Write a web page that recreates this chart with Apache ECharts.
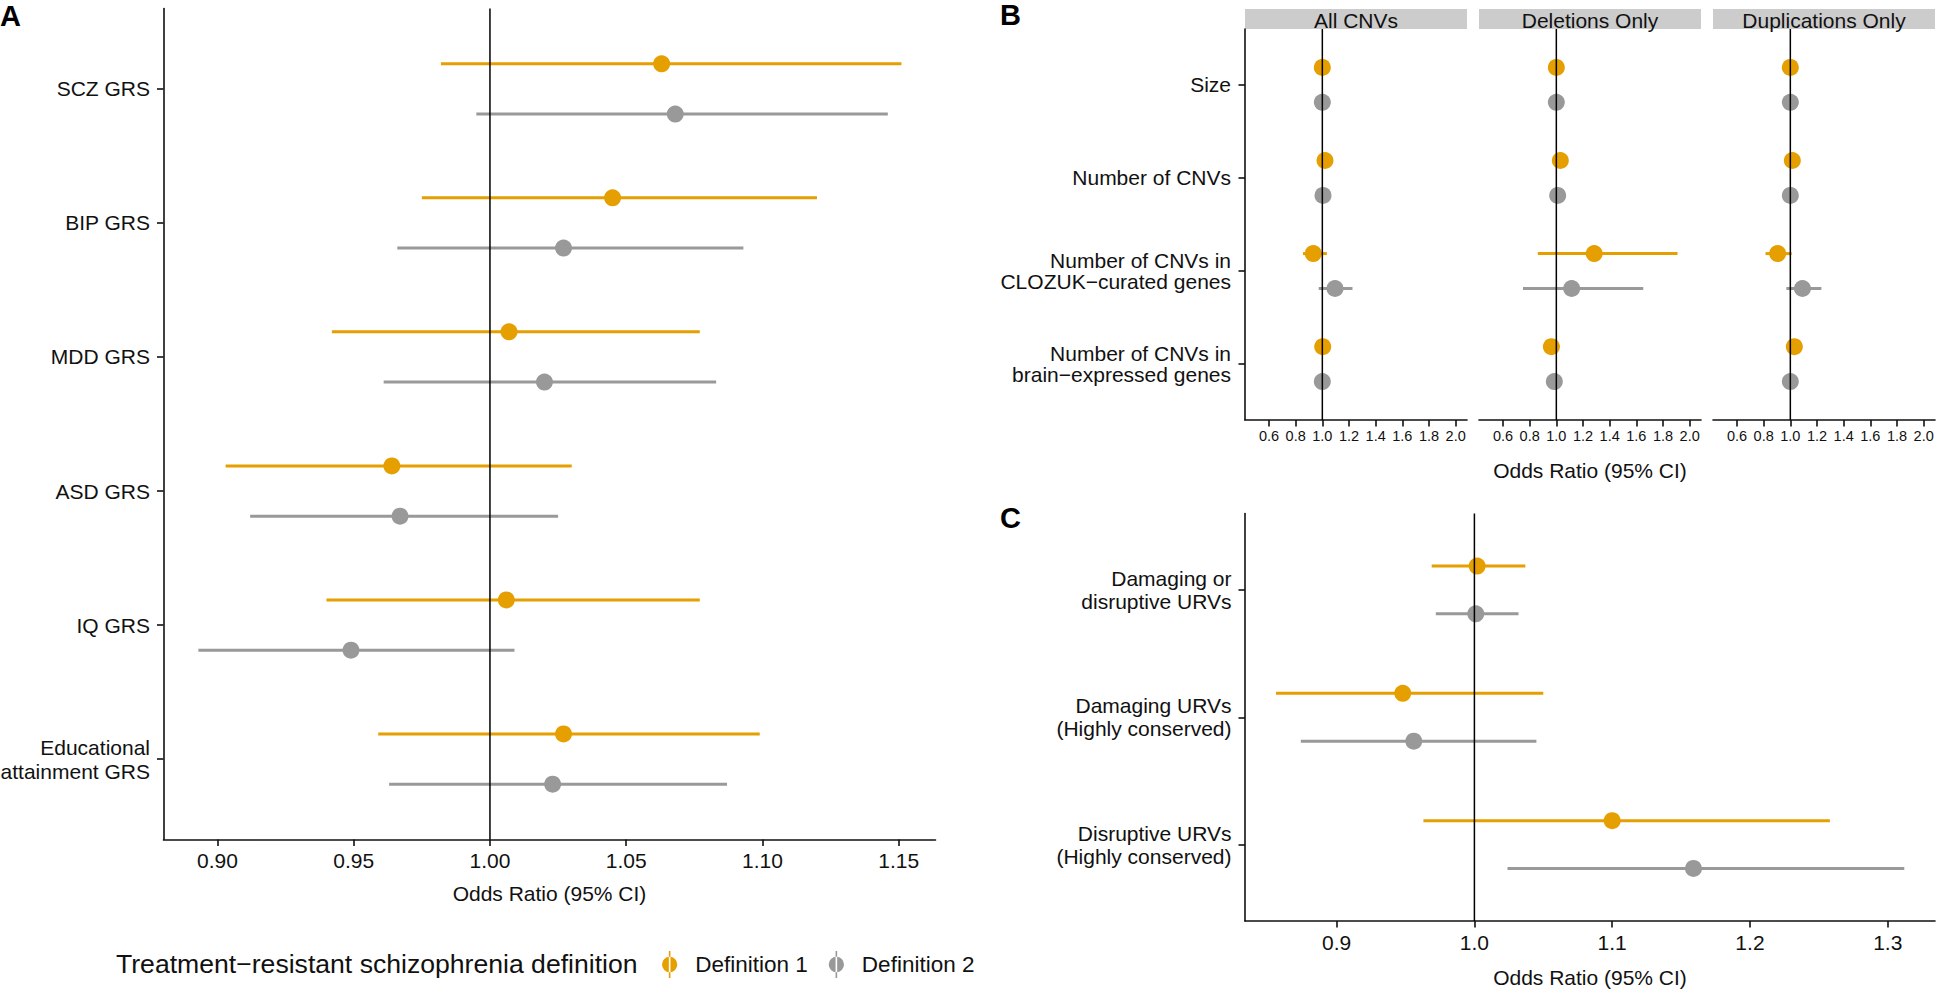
<!DOCTYPE html>
<html>
<head>
<meta charset="utf-8">
<title>Treatment-resistant schizophrenia forest plots</title>
<script src="https://cdn.jsdelivr.net/npm/echarts@6/dist/echarts.min.js"></script>
<style>
html, body { margin: 0; padding: 0; background: #fff; }
#main { width: 1937px; height: 989px; }
</style>
</head>
<body>
<div id="main"></div>
<script>
// ---- data ----
// panel A: genetic risk scores
var catsA = ['SCZ GRS', 'BIP GRS', 'MDD GRS', 'ASD GRS', 'IQ GRS', 'Educational\nattainment GRS'];
var grsDef1Or = [1.063, 1.045, 1.007, 0.964, 1.006, 1.027];
var grsDef1Lo = [0.982, 0.975, 0.942, 0.903, 0.940, 0.959];
var grsDef1Hi = [1.151, 1.120, 1.077, 1.030, 1.077, 1.099];
var grsDef2Or = [1.068, 1.027, 1.020, 0.967, 0.949, 1.023];
var grsDef2Lo = [0.995, 0.966, 0.961, 0.912, 0.893, 0.963];
var grsDef2Hi = [1.146, 1.093, 1.083, 1.025, 1.009, 1.087];
var ticksA = [0.90, 0.95, 1.00, 1.05, 1.10, 1.15];

// panel B: CNVs, one inner array per facet
var facetsB = ['All CNVs', 'Deletions Only', 'Duplications Only'];
var catsB = ['Size', 'Number of CNVs', 'Number of CNVs in\nCLOZUK\u2212curated genes', 'Number of CNVs in\nbrain\u2212expressed genes'];
var cnvDef1Or = [[1.000, 1.020, 0.932, 1.003], [1.000, 1.030, 1.284, 0.963], [1.000, 1.015, 0.905, 1.030]];
var cnvDef1Lo = [[0.990, 1.000, 0.855, 0.990], [0.990, 1.010, 0.861, 0.945], [0.990, 1.000, 0.814, 1.015]];
var cnvDef1Hi = [[1.010, 1.040, 1.034, 1.016], [1.010, 1.050, 1.909, 0.980], [1.010, 1.030, 1.010, 1.045]];
var cnvDef2Or = [[1.000, 1.005, 1.095, 1.000], [1.000, 1.010, 1.115, 0.985], [1.000, 1.000, 1.091, 1.000]];
var cnvDef2Lo = [[0.990, 0.995, 0.973, 0.990], [0.990, 1.000, 0.750, 0.970], [0.990, 0.990, 0.970, 0.990]];
var cnvDef2Hi = [[1.010, 1.015, 1.226, 1.010], [1.010, 1.020, 1.652, 1.000], [1.010, 1.010, 1.233, 1.010]];
var ticksB = [0.6, 0.8, 1.0, 1.2, 1.4, 1.6, 1.8, 2.0];

// panel C: ultra-rare variants
var catsC = ['Damaging or\ndisruptive URVs', 'Damaging URVs\n(Highly conserved)', 'Disruptive URVs\n(Highly conserved)'];
var urvDef1Or = [1.002, 0.948, 1.100];
var urvDef1Lo = [0.969, 0.856, 0.963];
var urvDef1Hi = [1.037, 1.050, 1.258];
var urvDef2Or = [1.001, 0.956, 1.159];
var urvDef2Lo = [0.972, 0.874, 1.024];
var urvDef2Hi = [1.032, 1.045, 1.312];
var ticksC = [0.9, 1.0, 1.1, 1.2, 1.3];

var defNames = ['Definition 1', 'Definition 2'];

// ---- styling ----
var FONT = "'Liberation Sans', Arial, Helvetica, sans-serif";
var INK = '#111';
var COL1 = '#E69F00';
var COL2 = '#999999';
var DODGE = 0.1875;

var myChart = echarts.init(document.getElementById('main'), null, { renderer: 'svg' });

function renderPointRange(params, api) {
    var y = api.value(1);
    var p = api.coord([api.value(0), y]);
    var a = api.coord([api.value(2), y]);
    var b = api.coord([api.value(3), y]);
    var color = api.visual('color');
    return {
        type: 'group',
        children: [
            { type: 'line', shape: { x1: a[0], y1: a[1], x2: b[0], y2: b[1] }, style: { stroke: color, lineWidth: 3 } },
            { type: 'circle', shape: { cx: p[0], cy: p[1], r: 8.5 }, style: { fill: color } }
        ]
    };
}

function pointRange(name, color, axisIdx, or, lo, hi, dodge) {
    var data = or.map(function (v, i) { return [v, i + dodge, lo[i], hi[i]]; });
    return {
        type: 'custom', name: name, xAxisIndex: axisIdx, yAxisIndex: axisIdx,
        itemStyle: { color: color }, data: data, encode: { x: [0, 2, 3], y: 1 },
        renderItem: renderPointRange, z: 2, silent: true
    };
}

function refLine(axisIdx, n) {
    return {
        type: 'line', xAxisIndex: axisIdx, yAxisIndex: axisIdx,
        data: [[1, -0.6], [1, n - 0.4]], symbol: 'none', silent: true, z: 3,
        lineStyle: { color: '#000', width: 1.5 }
    };
}

function yAxisFor(gi, cats, show, margin, lineHeight) {
    var idx = cats.map(function (c, i) { return i; });
    return {
        type: 'value', gridIndex: gi, inverse: true, min: -0.6, max: cats.length - 0.4,
        splitLine: { show: false },
        axisLine: { show: show, onZero: false, lineStyle: { color: INK, width: 1.6 } },
        axisTick: { show: show, customValues: idx, length: 6.5, lineStyle: { color: INK, width: 1.6 } },
        axisLabel: {
            show: show, customValues: idx, margin: margin, fontSize: 21, lineHeight: lineHeight,
            color: INK, fontFamily: FONT,
            formatter: function (v) { return cats[Math.round(v)]; }
        }
    };
}

function xAxisFor(gi, min, max, ticks, dec, fontSize, margin, name, nameGap) {
    return {
        type: 'value', gridIndex: gi, min: min, max: max,
        splitLine: { show: false },
        axisLine: { show: true, onZero: false, lineStyle: { color: INK, width: 1.6 } },
        axisTick: { show: true, customValues: ticks, length: 6.5, lineStyle: { color: INK, width: 1.6 } },
        axisLabel: {
            customValues: ticks, margin: margin, fontSize: fontSize, color: INK, fontFamily: FONT,
            formatter: function (v) { return v.toFixed(dec); }
        },
        name: name || '', nameLocation: 'middle', nameGap: nameGap || 0,
        nameTextStyle: { fontSize: 21, color: INK, fontFamily: FONT }
    };
}

// ---- layout (px) ----
var gridA = { left: 163.5, top: 8.5, width: 772, height: 831 };
var facetLeft = [1245, 1479, 1713];
var facetTop = 29, facetW = 222, facetH = 391;
var gridC = { left: 1245, top: 513.5, width: 690, height: 407.5 };

var grids = [gridA];
facetLeft.forEach(function (l) { grids.push({ left: l, top: facetTop, width: facetW, height: facetH }); });
grids.push(gridC);
grids.forEach(function (g) { g.containLabel = false; g.outerBoundsMode = 'none'; });

var xAxes = [xAxisFor(0, 0.8802, 1.1635, ticksA, 2, 21, 10.5, 'Odds Ratio (95% CI)', 43)];
var yAxes = [yAxisFor(0, catsA, true, 13.5, 24)];
var series = [
    pointRange(defNames[0], COL1, 0, grsDef1Or, grsDef1Lo, grsDef1Hi, -DODGE),
    pointRange(defNames[1], COL2, 0, grsDef2Or, grsDef2Lo, grsDef2Hi, DODGE),
    refLine(0, catsA.length)
];

var graphics = [];
facetsB.forEach(function (f, k) {
    var gi = k + 1;
    xAxes.push(xAxisFor(gi, 0.42, 2.085, ticksB, 1, 14.5, 8, k === 1 ? 'Odds Ratio (95% CI)' : '', 39.5));
    yAxes.push(yAxisFor(gi, catsB, k === 0, 14, 21));
    series.push(pointRange(defNames[0], COL1, gi, cnvDef1Or[k], cnvDef1Lo[k], cnvDef1Hi[k], -DODGE));
    series.push(pointRange(defNames[1], COL2, gi, cnvDef2Or[k], cnvDef2Lo[k], cnvDef2Hi[k], DODGE));
    series.push(refLine(gi, catsB.length));
    graphics.push({
        type: 'rect', left: facetLeft[k], top: 9, silent: true,
        shape: { width: facetW, height: facetTop - 9 }, style: { fill: '#CCCCCC' }
    });
    graphics.push({
        type: 'text', x: facetLeft[k] + facetW / 2, y: 9 + (facetTop - 9) / 2 + 1, silent: true,
        style: { text: f, fontSize: 21, fontFamily: FONT, fill: INK, align: 'center', verticalAlign: 'middle' }
    });
});

xAxes.push(xAxisFor(4, 0.8335, 1.3343, ticksC, 1, 21, 11, 'Odds Ratio (95% CI)', 45.5));
yAxes.push(yAxisFor(4, catsC, true, 13.5, 23));
series.push(pointRange(defNames[0], COL1, 4, urvDef1Or, urvDef1Lo, urvDef1Hi, -DODGE));
series.push(pointRange(defNames[1], COL2, 4, urvDef2Or, urvDef2Lo, urvDef2Hi, DODGE));
series.push(refLine(4, catsC.length));

var keyIcon = 'path://M8.6,0 L10.4,0 L10.4,30 L8.6,30 Z M1,15 a8.5,8.5 0 1,0 17,0 a8.5,8.5 0 1,0 -17,0 Z';

var panelTitle = { fontSize: 29, fontWeight: 'bold', color: '#000', fontFamily: FONT };

var option = {
    animation: false,
    backgroundColor: '#fff',
    title: [
        { text: 'A', left: 0, top: 1, padding: 0, textStyle: panelTitle },
        { text: 'B', left: 1000, top: 0, padding: 0, textStyle: panelTitle },
        { text: 'C', left: 1000, top: 503, padding: 0, textStyle: panelTitle },
        {
            text: 'Treatment\u2212resistant schizophrenia definition', left: 116, top: 950, padding: 0,
            textStyle: { fontSize: 26.6, fontWeight: 'normal', color: INK, fontFamily: FONT }
        }
    ],
    legend: {
        data: defNames, left: 662, top: 951, padding: 0, itemGap: 21,
        itemWidth: 17, itemHeight: 27, icon: keyIcon, selectedMode: false,
        textStyle: { fontSize: 22.5, color: INK, fontFamily: FONT, padding: [0, 0, 0, 12] }
    },
    grid: grids,
    xAxis: xAxes,
    yAxis: yAxes,
    graphic: graphics,
    series: series
};

myChart.setOption(option);
</script>
</body>
</html>
